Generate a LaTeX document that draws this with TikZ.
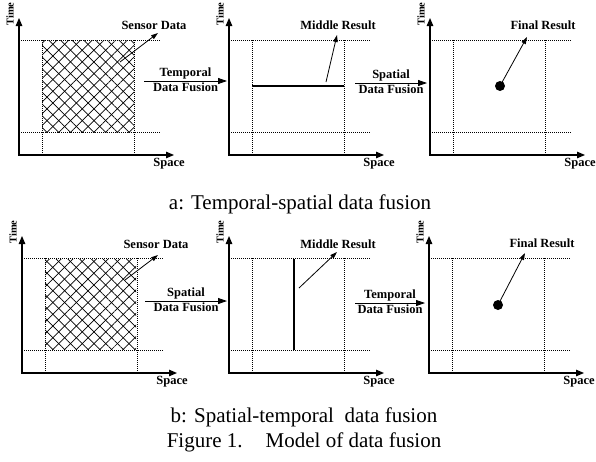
\documentclass[tikz,border=0pt]{standalone}
\usepackage{fontspec}
\setmainfont{Liberation Serif}
\usetikzlibrary{arrows.meta,patterns.meta}

\tikzset{
  axis/.style={line width=1.2pt,{Triangle[length=8pt,width=6.5pt]}-{Triangle[length=8pt,width=6.5pt]}},
  grid line/.style={line width=0.7pt,dash pattern=on 1pt off 1pt},
  pointer/.style={line width=0.8pt,-{Triangle[length=7pt,width=4.5pt]}},
  fusion/.style={line width=0.8pt,-{Triangle[length=9pt,width=6pt]}},
  tag/.style={font=\fontsize{12.5}{12.5}\selectfont\bfseries,inner sep=1pt},
  axis tag/.style={font=\fontsize{12.5}{12.5}\selectfont\bfseries,inner sep=0pt},
  time tag/.style={font=\fontsize{10.5}{10.5}\selectfont\bfseries,inner sep=0pt,rotate=90},
  result/.style={line width=2pt},
  caption/.style={font=\fontsize{21}{25}\selectfont,align=center,inner sep=0pt}
}

% axes and dotted frame of one panel; #1 name, (#2,#3) corner of the axes
\newcommand{\fusionaxes}[3]{%
  \coordinate (#1o) at (#2,#3);
  \coordinate (#1t) at (#2,#3-137);
  \coordinate (#1s) at (#2+155,#3);
  \draw[grid line] (#2,#3-115) -- (#2+141,#3-115);
  \draw[grid line] (#2,#3-23) -- (#2+141,#3-23);
  \draw[grid line] (#2+23,#3-115) -- (#2+23,#3);
  \draw[grid line] (#2+115,#3-115) -- (#2+115,#3);
  \draw[axis] (#1t) -- (#1o) -- (#1s);
  \node[time tag] (#1time) at (#2-9,#3-141) {Time};
  \node[axis tag] (#1space) at (#2+150,#3+9) {Space};
}

\begin{document}
\begin{tikzpicture}[x=1pt,y=-1pt]
  \useasboundingbox (0,0) rectangle (596,461);

  % a: temporal-spatial
  \fill[pattern={Lines[angle=45,distance=8.3pt,line width=0.7pt]}] (42,40) rectangle (134,132);
  \fill[pattern={Lines[angle=-45,distance=8.3pt,line width=0.7pt]}] (42,40) rectangle (134,132);
  \fusionaxes{pa}{19}{155}
  \node[tag] (sensora) at (154,25) {Sensor Data};
  \coordinate (sensoraf) at (120,62);
  \coordinate (sensorat) at (158,33);
  \draw[pointer] (sensoraf) -- (sensorat);

  \coordinate (fusa1) at (144,81);
  \coordinate (fusa2) at (227,81);
  \draw[fusion] (fusa1) -- node[tag,above] (fusa1top) {Temporal} node[tag,below] (fusa1bot) {Data Fusion} (fusa2);

  \fusionaxes{pb}{229}{155}
  \draw[result] (252,86) -- (344,86);
  \node[tag] (middlea) at (338,25) {Middle Result};
  \coordinate (middleaf) at (326,82);
  \coordinate (middleat) at (337,35);
  \draw[pointer] (middleaf) -- (middleat);

  \coordinate (fusa3) at (355,83);
  \coordinate (fusa4) at (427,83);
  \draw[fusion] (fusa3) -- node[tag,above] (fusa2top) {Spatial} node[tag,below] (fusa2bot) {Data Fusion} (fusa4);

  \fusionaxes{pc}{430}{155}
  \fill (500,86) circle (5);
  \coordinate (finalaf) at (500,86);
  \coordinate (finalat) at (527,37);
  \draw[pointer] (finalaf) -- (finalat);
  \node[tag] (finala) at (543,25) {Final Result};

  \node[caption] (capa) at (300,204) {a: Temporal-spatial data fusion};

  % b: spatial-temporal
  \fill[pattern={Lines[angle=45,distance=8.3pt,line width=0.7pt]}] (45,259) rectangle (136,349);
  \fill[pattern={Lines[angle=-45,distance=8.3pt,line width=0.7pt]}] (45,259) rectangle (136,349);
  \fusionaxes{pd}{22}{373}
  \node[tag] (sensorb) at (156,244) {Sensor Data};
  \coordinate (sensorbf) at (125,280);
  \coordinate (sensorbt) at (158,255);
  \draw[pointer] (sensorbf) -- (sensorbt);

  \coordinate (fusb1) at (145,301);
  \coordinate (fusb2) at (227,301);
  \draw[fusion] (fusb1) -- node[tag,above] (fusb1top) {Spatial} node[tag,below] (fusb1bot) {Data Fusion} (fusb2);

  \fusionaxes{pe}{229}{373}
  \draw[result] (294,259) -- (294,350);
  \node[tag] (middleb) at (338,244) {Middle Result};
  \coordinate (middlebf) at (299,288);
  \coordinate (middlebt) at (337,252);
  \draw[pointer] (middlebf) -- (middlebt);

  \coordinate (fusb3) at (355,303);
  \coordinate (fusb4) at (425,303);
  \draw[fusion] (fusb3) -- node[tag,above] (fusb2top) {Temporal} node[tag,below] (fusb2bot) {Data Fusion} (fusb4);

  \fusionaxes{pf}{429}{373}
  \fill (498,305) circle (5);
  \coordinate (finalbf) at (498,305);
  \coordinate (finalbt) at (525,253);
  \draw[pointer] (finalbf) -- (finalbt);
  \node[tag] (finalb) at (542,243) {Final Result};

  \node[caption] (capb) at (304,430) {b: Spatial-temporal\ \ data fusion\\Figure 1.\hspace{1.1em}Model of data fusion};
\end{tikzpicture}
\end{document}
